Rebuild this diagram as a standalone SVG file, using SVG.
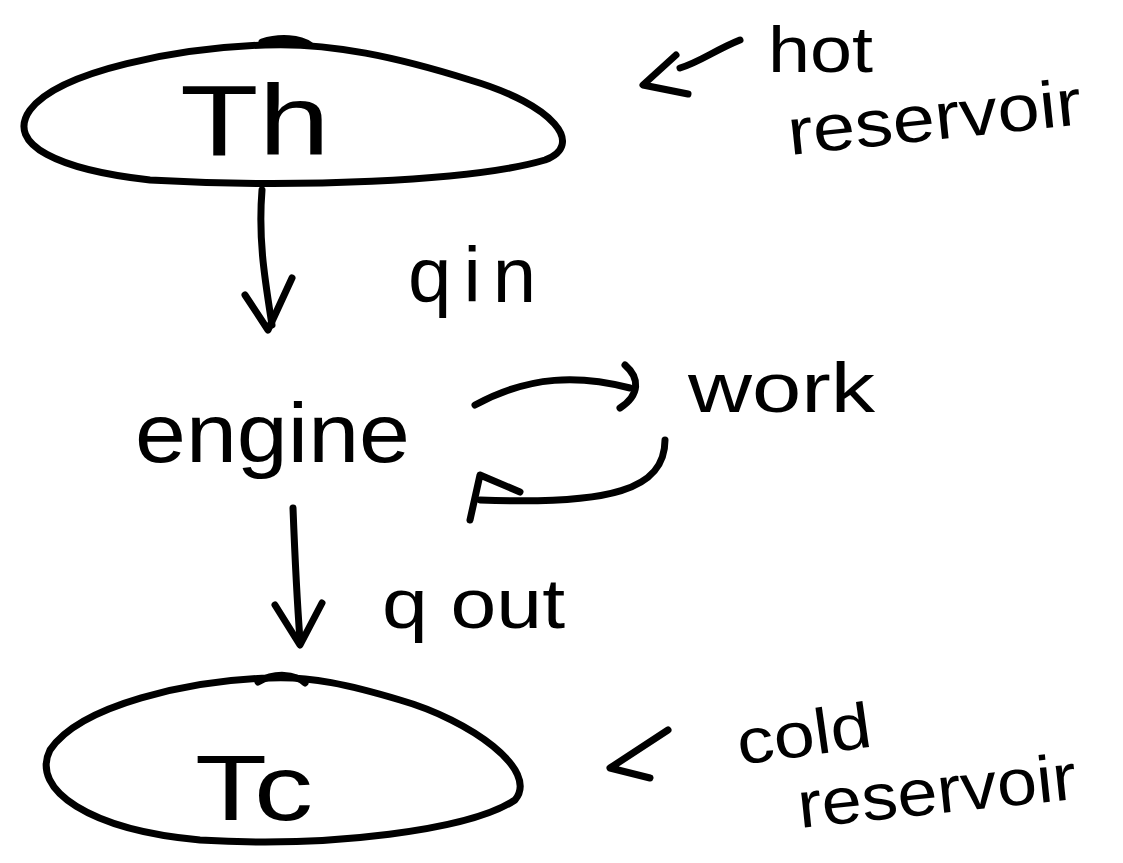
<svg xmlns="http://www.w3.org/2000/svg" width="1123" height="863" viewBox="0 0 1123 863">
<style>
.s{fill:none;stroke:#000;stroke-width:7;stroke-linecap:round;stroke-linejoin:round}
.t{font-family:"Liberation Sans","DejaVu Sans",sans-serif;fill:#000}
</style>
<rect width="1123" height="863" fill="#fff"/>
<g id="hot">
<path class="s" d="M265,45 C180,48 60,70 30,110 C5,145 60,170 150,180 C290,188 470,182 545,160 C585,145 555,105 470,80 C400,58 330,42 265,45 Z"/>
<path class="s" d="M262,42 C280,36 300,38 310,45"/>
<text class="t" x="180" y="155" font-size="100" textLength="150" lengthAdjust="spacingAndGlyphs">Th</text>
</g>
<g id="hotlabel">
<path class="s" d="M740,40 C715,50 700,62 680,68 M676,55 L643,85 L688,94"/>
<text class="t" x="768" y="72" font-size="64" textLength="105" lengthAdjust="spacingAndGlyphs">hot</text>
<text class="t" x="790" y="155" font-size="66" textLength="295" lengthAdjust="spacingAndGlyphs" transform="rotate(-6 790 155)">reservoir</text>
</g>
<g id="engine">
<text class="t" x="135" y="462" font-size="84" textLength="275" lengthAdjust="spacingAndGlyphs">engine</text>
</g>
<g id="work">
<text class="t" x="688" y="412" font-size="70" textLength="187" lengthAdjust="spacingAndGlyphs">work</text>
</g>
<g id="cold">
<path class="s" d="M270,678 C190,680 80,705 50,750 C30,790 90,830 200,840 C330,848 470,830 515,800 C540,770 470,720 400,700 C350,685 310,676 270,678 Z"/>
<path class="s" d="M258,682 C275,672 295,674 305,683"/>
<text class="t" x="195" y="820" font-size="92" textLength="118" lengthAdjust="spacingAndGlyphs">Tc</text>
</g>
<g id="coldlabel">
<path class="s" d="M668,730 L610,768 L650,778"/>
<text class="t" x="740" y="765" font-size="64" textLength="135" lengthAdjust="spacingAndGlyphs" transform="rotate(-8 740 765)">cold</text>
<text class="t" x="800" y="828" font-size="66" textLength="280" lengthAdjust="spacingAndGlyphs" transform="rotate(-6 800 828)">reservoir</text>
</g>
<g id="connectors">
<path class="s" d="M262,190 C258,240 265,280 272,325"/>
<path class="s" d="M245,295 L268,330 L292,278"/>
<path class="s" d="M475,405 C530,375 580,375 630,388"/>
<path class="s" d="M625,365 C640,378 640,395 620,408"/>
<path class="s" d="M665,440 C665,490 610,505 480,500"/>
<path class="s" d="M470,520 L480,475 L520,492"/>
<path class="s" d="M293,508 C295,560 297,600 300,640"/>
<path class="s" d="M275,605 L300,645 L322,603"/>
<text class="t" x="408" y="302" font-size="78" letter-spacing="12">qin</text>
<text class="t" x="382" y="628" font-size="70" textLength="183" lengthAdjust="spacingAndGlyphs">q out</text>
</g>
</svg>
